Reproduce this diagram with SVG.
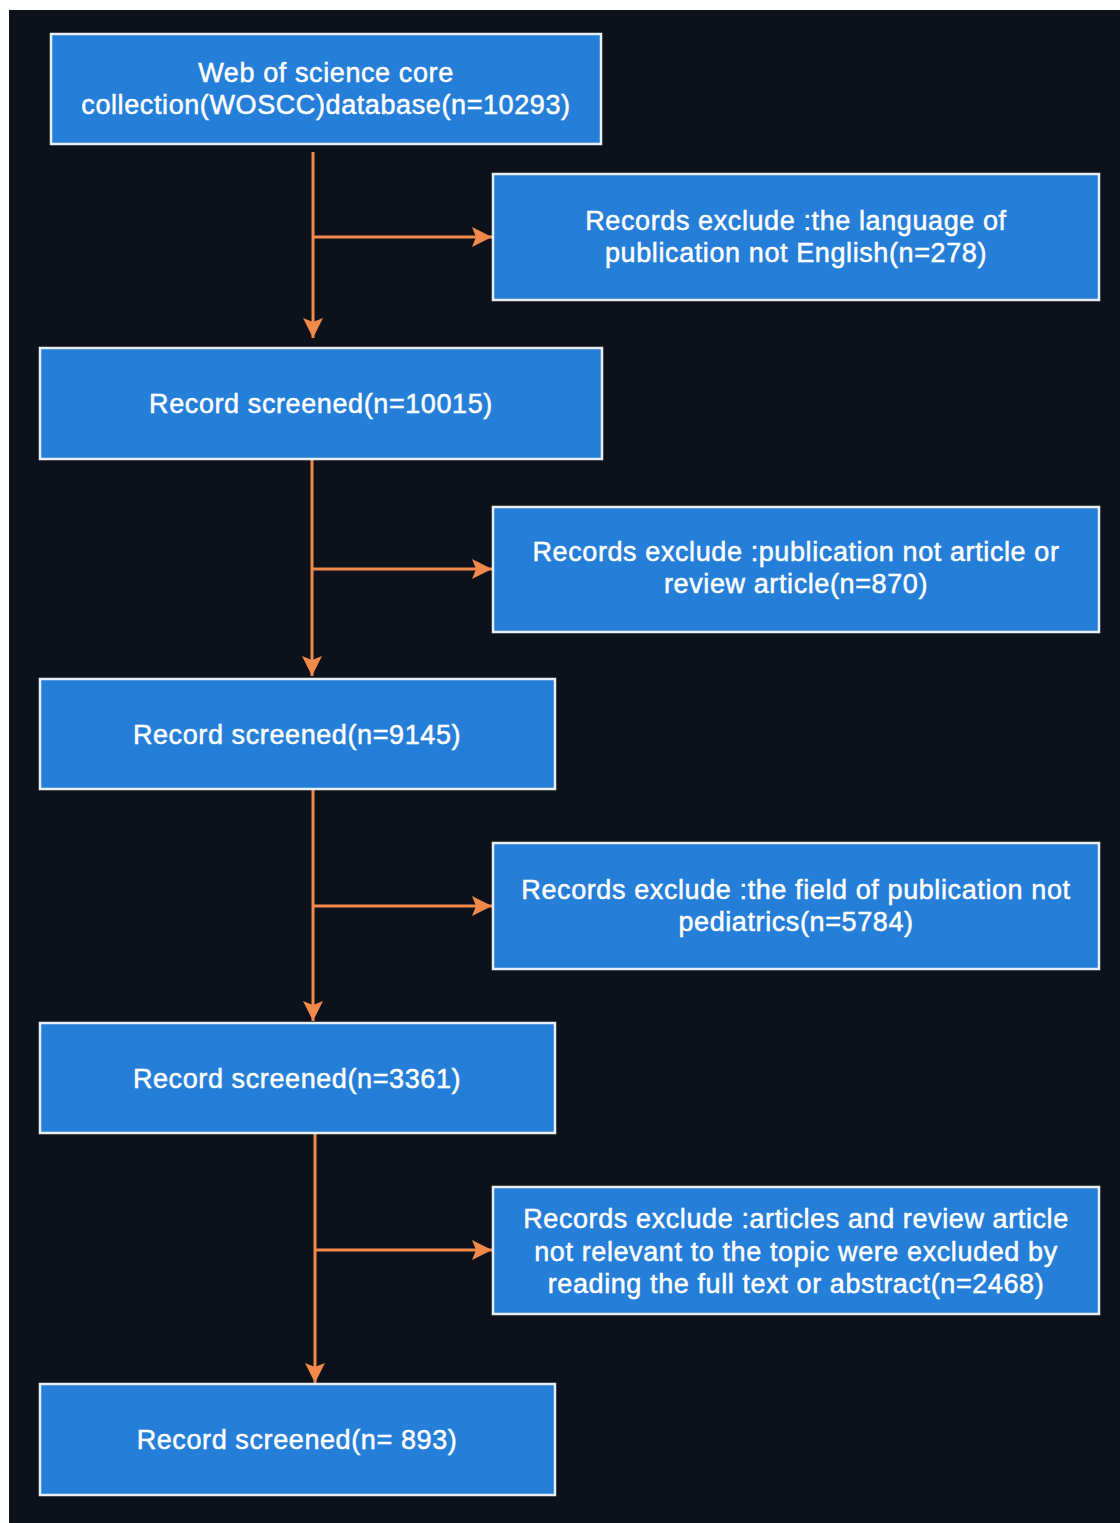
<svg xmlns="http://www.w3.org/2000/svg" width="1120" height="1523" viewBox="0 0 1120 1523">
<defs>
<style>
.box{fill:#257ed8;stroke:#e8eef5;stroke-width:2.5}
.t{font-family:"Liberation Sans","Noto Sans",sans-serif;font-size:27px;letter-spacing:0.6px;fill:#ffffff;stroke:#ffffff;stroke-width:0.5;text-anchor:middle}
.c{stroke:#f0894a;stroke-width:3;fill:none}
</style>
<marker id="a" viewBox="0 0 20 20" refX="20" refY="10" markerWidth="22" markerHeight="20" markerUnits="userSpaceOnUse" orient="auto">
<path d="M0,0 L20,10 L0,20 L4,10 Z" fill="#f0894a"/>
</marker>
</defs>
<rect x="0" y="0" width="1120" height="1523" fill="#ffffff"/>
<rect x="9" y="10" width="1111" height="1513" fill="#0d121a"/>
<g id="connectors">
<path class="c" d="M313,152 V338" marker-end="url(#a)"/>
<path class="c" d="M313,237 H492" marker-end="url(#a)"/>
<path class="c" d="M312,459 V676" marker-end="url(#a)"/>
<path class="c" d="M312,569 H492" marker-end="url(#a)"/>
<path class="c" d="M313,789 V1021" marker-end="url(#a)"/>
<path class="c" d="M313,906 H492" marker-end="url(#a)"/>
<path class="c" d="M315,1133 V1383" marker-end="url(#a)"/>
<path class="c" d="M315,1250 H492" marker-end="url(#a)"/>
</g>
<g id="n1"><rect class="box" x="51" y="34" width="550" height="110"/>
<text class="t" x="326" y="82">Web of science core</text>
<text class="t" x="326" y="114">collection(WOSCC)database(n=10293)</text></g>
<g id="n2"><rect class="box" x="493" y="174" width="606" height="126"/>
<text class="t" x="796" y="230">Records exclude :the language of</text>
<text class="t" x="796" y="262">publication not English(n=278)</text></g>
<g id="n3"><rect class="box" x="40" y="348" width="562" height="111"/>
<text class="t" x="321" y="413">Record screened(n=10015)</text></g>
<g id="n4"><rect class="box" x="493" y="507" width="606" height="125"/>
<text class="t" x="796" y="561">Records exclude :publication not article or</text>
<text class="t" x="796" y="593">review article(n=870)</text></g>
<g id="n5"><rect class="box" x="40" y="679" width="515" height="110"/>
<text class="t" x="297" y="744">Record screened(n=9145)</text></g>
<g id="n6"><rect class="box" x="493" y="843" width="606" height="126"/>
<text class="t" x="796" y="899">Records exclude :the field of publication not</text>
<text class="t" x="796" y="931">pediatrics(n=5784)</text></g>
<g id="n7"><rect class="box" x="40" y="1023" width="515" height="110"/>
<text class="t" x="297" y="1088">Record screened(n=3361)</text></g>
<g id="n8"><rect class="box" x="493" y="1187" width="606" height="127"/>
<text class="t" x="796" y="1228">Records exclude :articles and review article</text>
<text class="t" x="796" y="1261">not relevant to the topic were excluded by</text>
<text class="t" x="796" y="1293">reading the full text or abstract(n=2468)</text></g>
<g id="n9"><rect class="box" x="40" y="1384" width="515" height="111"/>
<text class="t" x="297" y="1449">Record screened(n= 893)</text></g>
</svg>
